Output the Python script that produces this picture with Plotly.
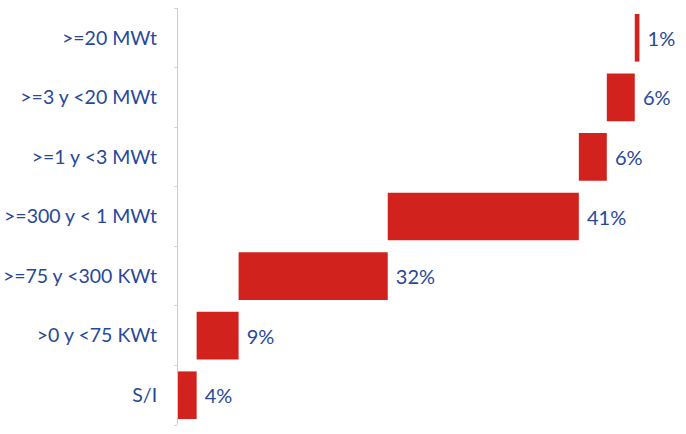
import plotly.graph_objects as go

# Distribution of installations by thermal power range
categories = [
    "S/I",
    ">0 y <75 KWt",
    ">=75 y <300 KWt",
    ">=300 y < 1 MWt",
    ">=1 y <3 MWt",
    ">=3 y <20 MWt",
    ">=20 MWt",
]
shares = [4, 9, 32, 41, 6, 6, 1]
labels = [f" {v}%" for v in shares]

BAR_RED = "#D2221D"
TEXT_BLUE = "#27489A"
FONT = "Lato, Open Sans, sans-serif"

fig = go.Figure(
    go.Waterfall(
        orientation="h",
        measure=["relative"] * len(shares),
        y=categories,
        x=shares,
        text=labels,
        textposition="outside",
        textfont=dict(family=FONT, size=20, color=TEXT_BLUE),
        increasing=dict(marker=dict(color=BAR_RED, line=dict(width=0))),
        connector=dict(visible=False),
        cliponaxis=False,
        hoverinfo="skip",
    )
)

fig.update_layout(
    width=686,
    height=434,
    margin=dict(l=178, r=20, t=8, b=9),
    paper_bgcolor="white",
    plot_bgcolor="white",
    showlegend=False,
    bargap=0.1,
    font=dict(family=FONT, color=TEXT_BLUE),
)
fig.update_xaxes(
    range=[0, 104.7],
    visible=False,
    showgrid=False,
    zeroline=False,
    automargin=False,
)
fig.update_yaxes(
    type="category",
    automargin=False,
    showline=True,
    linecolor="#C9CDD8",
    linewidth=1,
    ticks="outside",
    tickson="boundaries",
    ticklen=3,
    tickcolor="#D3D6DF",
    tickfont=dict(family=FONT, size=19.5, color=TEXT_BLUE),
    ticklabelstandoff=16,
    showgrid=False,
)

fig.write_html("out.html")
